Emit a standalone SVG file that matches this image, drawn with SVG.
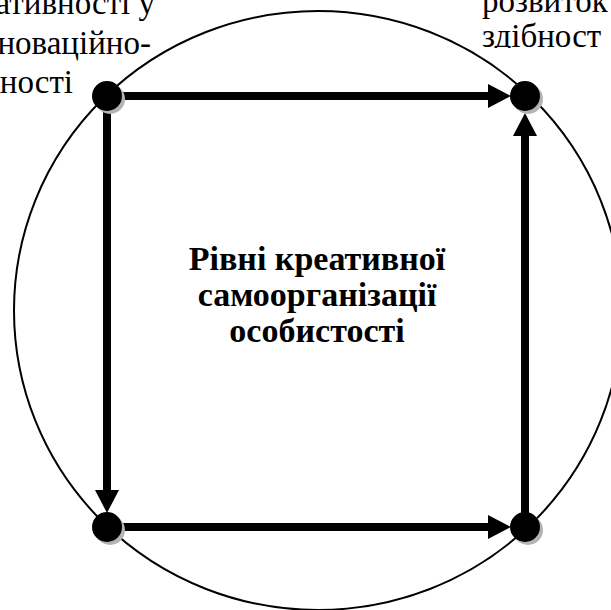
<svg xmlns="http://www.w3.org/2000/svg" width="611" height="610" viewBox="0 0 611 610">
<rect width="611" height="610" fill="#fff"/>
<ellipse id="ring" cx="318" cy="310.5" rx="304" ry="299.5" fill="none" stroke="#000" stroke-width="2"/>
<g id="label-top-left" fill="#000">
<text x="155" y="14" font-family="Liberation Serif" font-size="33" text-anchor="end">ативності у</text>
<text x="151" y="54" font-family="Liberation Serif" font-size="33" text-anchor="end">новаційно-</text>
<text x="73" y="93" font-family="Liberation Serif" font-size="33" text-anchor="end">ності</text>
</g>
<svg id="label-top-right" x="0" y="0" width="611" height="48" viewBox="0 0 611 48">
<text x="482" y="12" font-family="Liberation Serif" font-size="33" fill="#000">розвиток</text>
<text x="482" y="47" font-family="Liberation Serif" font-size="33" fill="#000">здібност</text>
</svg>
<g id="connectors" stroke="#000" stroke-width="8" fill="none">
<line x1="107" y1="96" x2="492" y2="96"/>
<line x1="107" y1="96" x2="107" y2="494"/>
<line x1="107" y1="527" x2="492" y2="527"/>
<line x1="525" y1="527" x2="525" y2="132"/>
<g fill="#000" stroke="none">
<polygon points="511,96 488,84 488,108"/>
<polygon points="107,513 95,490 119,490"/>
<polygon points="511,527 488,515 488,539"/>
<polygon points="525,113 513,136 537,136"/>
</g>
</g>
<g id="node-tl"><circle fill="#b3b3b3" cx="110" cy="99" r="15"/><circle fill="#000" cx="107" cy="96" r="15"/></g>
<g id="node-tr"><circle fill="#b3b3b3" cx="528" cy="99" r="15"/><circle fill="#000" cx="525" cy="96" r="15"/></g>
<g id="node-bl"><circle fill="#b3b3b3" cx="110" cy="530" r="15"/><circle fill="#000" cx="107" cy="527" r="15"/></g>
<g id="node-br"><circle fill="#b3b3b3" cx="528" cy="530" r="15"/><circle fill="#000" cx="525" cy="527" r="15"/></g>
<g id="title" fill="#000">
<text x="317" y="270" font-family="Liberation Serif" font-size="34" font-weight="bold" text-anchor="middle">Рівні креативної</text>
<text x="317" y="306" font-family="Liberation Serif" font-size="34" font-weight="bold" text-anchor="middle">самоорганізації</text>
<text x="317" y="342" font-family="Liberation Serif" font-size="34" font-weight="bold" text-anchor="middle">особистості</text>
</g>
</svg>
